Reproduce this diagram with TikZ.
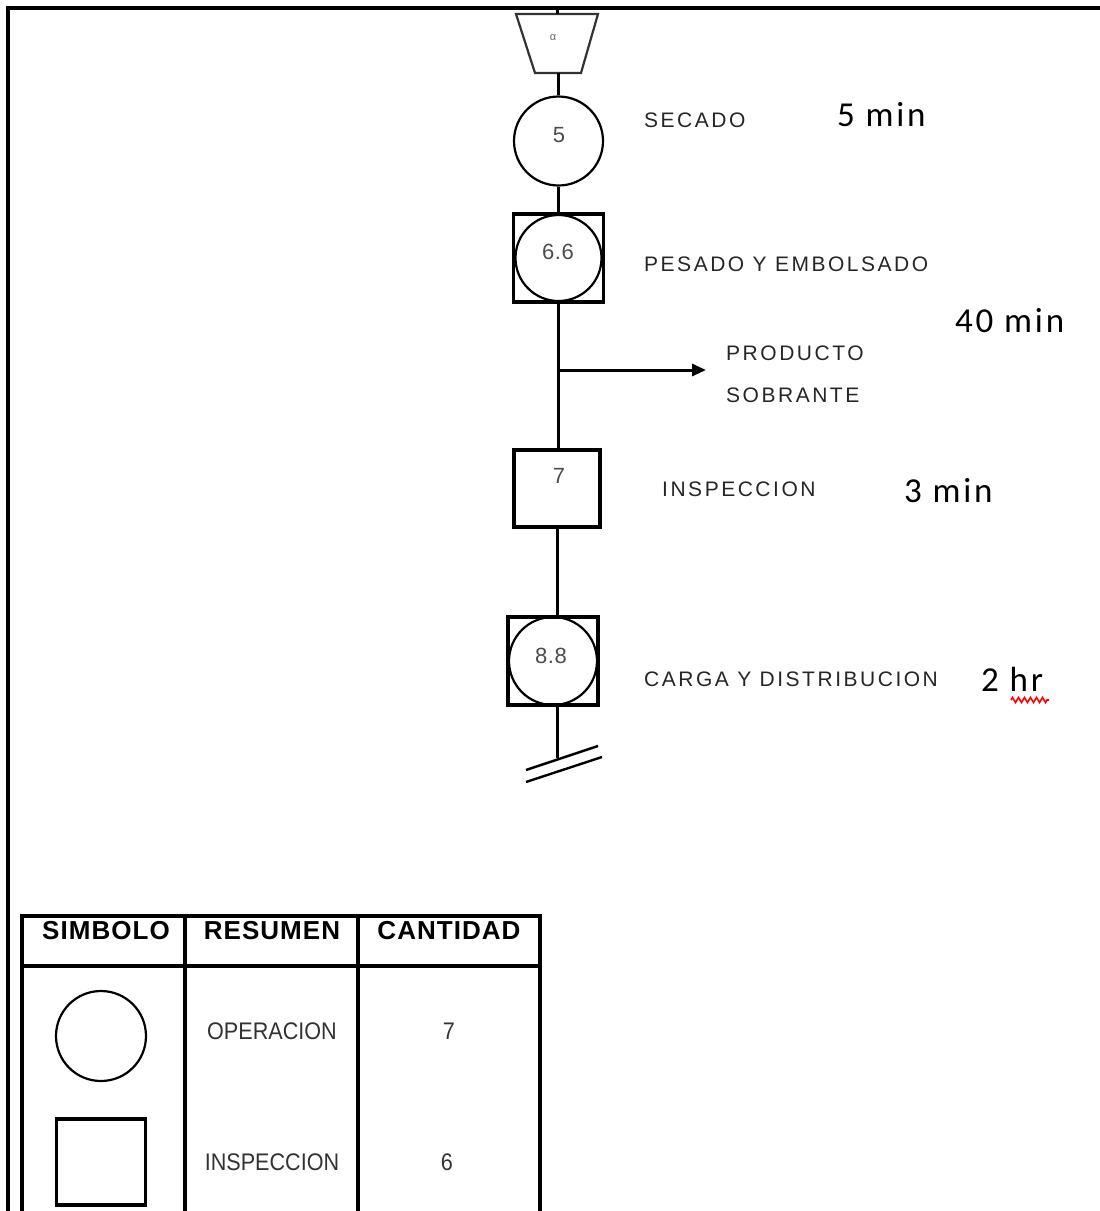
\documentclass[tikz,border=0pt]{standalone}
\usepackage{fontspec}
\setmainfont{Liberation Sans}
\newfontfamily\lblfont[LetterSpace=12]{Liberation Sans}
\newfontfamily\numfont[LetterSpace=3]{Liberation Sans}
\newfontfamily\cellfont[FakeStretch=0.9]{Liberation Sans}
\newfontfamily\hdrfont[LetterSpace=4]{Liberation Sans}
\newfontfamily\timefont[LetterSpace=8]{Carlito}
\usetikzlibrary{arrows.meta,decorations.pathmorphing}

\tikzset{
  conn/.style={line width=3pt},
  opcircle/.style={circle, draw, line width=2.2pt, minimum size=89pt, inner sep=0pt},
  insbox/.style={rectangle, draw, line width=3.2pt, inner sep=0pt},
  num/.style={font=\numfont\fontsize{22}{22}\selectfont, text=black!70, inner sep=0pt},
  steplabel/.style={font=\lblfont\fontsize{21}{21}\selectfont, text=black!85, anchor=west, inner sep=0pt},
  timelabel/.style={font=\timefont\fontsize{35}{35}\selectfont, anchor=west, inner sep=0pt},
  hdr/.style={font=\hdrfont\bfseries\fontsize{26}{26}\selectfont, inner sep=0pt},
  cell/.style={font=\cellfont\fontsize{24}{24}\selectfont, text=black!80, inner sep=0pt},
}

\begin{document}
\begin{tikzpicture}[x=1pt,y=-1pt]
\useasboundingbox (0,0) rectangle (1100,1211);

% page frame
\draw[line width=3.2pt] (8,1211) -- (8,8) -- (1100,8);

% off-page connector (trapezoid) with alpha
\coordinate (trapTop) at (557,14);
\coordinate (trapBot) at (558,73);
\draw[line width=2.2pt, draw=black!80] (516,14) -- (598,14) -- (581,73) -- (535,73) -- cycle;
\node[font=\fontsize{11}{11}\selectfont, text=black!60] (alpha) at (553,38) {α};
\coordinate (frameTop) at (557,8);

% operation 5
\node[opcircle] (op5) at (558.5,141) {};
\node[num] (n5) at (559,135) {5};

% combined operation/inspection 6.6
\node[insbox, minimum width=90pt, minimum height=88pt] (b66) at (558.5,258) {};
\node[opcircle, minimum size=86pt] (c66) at (558.5,258) {};
\node[num] (n66) at (558,252) {6.6};

% branch for leftover product
\coordinate (branch) at (558,370);
\coordinate (branchEnd) at (706,370);

% inspection 7
\node[insbox, minimum width=86pt, minimum height=77pt] (b7) at (557,488.5) {};
\node[num] (n7) at (559,476) {7};

% combined operation/inspection 8.8
\node[insbox, minimum width=90pt, minimum height=88pt] (b88) at (553,661) {};
\node[opcircle, minimum size=88pt] (c88) at (553,661) {};
\node[num] (n88) at (551,656) {8.8};

% end of process
\coordinate (endPt) at (557,758);
\coordinate (e1a) at (526,770);
\coordinate (e1b) at (598,746);
\coordinate (e2a) at (526,782);
\coordinate (e2b) at (602,757);

% connectors
\draw[conn] (frameTop) -- (frameTop |- trapTop);
\draw[conn] (trapBot) -- (trapBot |- op5.north);
\draw[conn] (op5.south) -- (op5.south |- b66.north);
\draw[conn] (branch |- b66.south) -- (branch |- b7.north);
\draw[conn, -{Triangle[length=14pt,width=12pt]}] (branch) -- (branchEnd);
\draw[conn] (b7.south) -- (b7.south |- b88.north);
\draw[conn] (endPt |- b88.south) -- (endPt);
\draw[line width=2.4pt] (e1a) -- (e1b);
\draw[line width=2.4pt] (e2a) -- (e2b);

% step descriptions
\node[steplabel] (tSecado) at (644,120) {SECADO};
\node[steplabel] (tPesado) at (644,264) {PESADO Y EMBOLSADO};
\node[steplabel] (tProd) at (726,353) {PRODUCTO};
\node[steplabel] (tSobr) at (726,395) {SOBRANTE};
\node[steplabel] (tInsp) at (662,489) {INSPECCION};
\node[steplabel] (tCarga) at (644,679) {CARGA Y DISTRIBUCION};

% times
\node[timelabel] (m5) at (837,115) {5 min};
\node[timelabel] (m40) at (955,321) {40 min};
\node[timelabel] (m3) at (904,491) {3 min};
\node[timelabel] (h2) at (981,679) {2 hr};
\draw[red, line width=1.6pt, decorate, decoration={zigzag, amplitude=2.5pt, segment length=6pt}] (1011,700) -- (1049,700);

% summary table
\draw[line width=3.2pt] (22,1211) -- (22,916) -- (540,916) -- (540,1211);
\draw[line width=3.2pt] (22,966) -- (540,966);
\draw[line width=3.2pt] (185,916) -- (185,1211);
\draw[line width=3.2pt] (358,916) -- (358,1211);
\node[hdr] (hSim) at (106,931) {SIMBOLO};
\node[hdr] (hRes) at (272,931) {RESUMEN};
\node[hdr] (hCan) at (449,931) {CANTIDAD};

\node[circle, draw, line width=2.2pt, minimum size=90pt, inner sep=0pt] (symOp) at (101,1036) {};
\node[cell] (cOp) at (272,1031) {OPERACION};
\node[cell] (qOp) at (449,1031) {7};

\node[insbox, minimum width=89pt, minimum height=86pt] (symIn) at (101,1162) {};
\node[cell] (cIn) at (272,1162) {INSPECCION};
\node[cell] (qIn) at (447,1162) {6};
\end{tikzpicture}
\end{document}
